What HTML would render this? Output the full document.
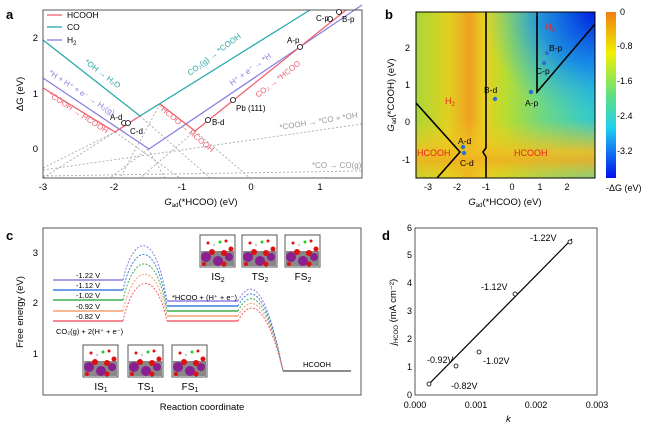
<!DOCTYPE html>
<html><head><meta charset="utf-8"><style>
body{margin:0;background:#fff}
svg{display:block;font-family:"Liberation Sans",Arial,sans-serif}
</style></head><body>
<svg width="650" height="428" viewBox="0 0 650 428" xmlns="http://www.w3.org/2000/svg">
<defs>
<linearGradient id="hx" x1="416" x2="595" y1="0" y2="0" gradientUnits="userSpaceOnUse">
<stop offset="0" stop-color="#a8d838"/>
<stop offset="0.18" stop-color="#e0d020"/>
<stop offset="0.3" stop-color="#f0a020"/>
<stop offset="0.38" stop-color="#e8d020"/>
<stop offset="0.5" stop-color="#b8dc30"/>
<stop offset="0.7" stop-color="#70d880"/>
<stop offset="1" stop-color="#30c8d0"/>
</linearGradient>
<linearGradient id="hy" x1="0" x2="0" y1="120" y2="178" gradientUnits="userSpaceOnUse">
<stop offset="0" stop-color="#f0d020" stop-opacity="0"/>
<stop offset="0.55" stop-color="#f0c020" stop-opacity="0.9"/>
<stop offset="0.7" stop-color="#f0b020" stop-opacity="0.9"/>
<stop offset="1" stop-color="#e8d020" stop-opacity="0.5"/>
</linearGradient>
<radialGradient id="hb" cx="595" cy="12" r="110" gradientUnits="userSpaceOnUse">
<stop offset="0" stop-color="#0020e0"/>
<stop offset="0.5" stop-color="#1080f0" stop-opacity="0.8"/>
<stop offset="1" stop-color="#30c8e0" stop-opacity="0"/>
</radialGradient>
<linearGradient id="cb" x1="0" x2="0" y1="12" y2="178" gradientUnits="userSpaceOnUse">
<stop offset="0" stop-color="#f08010"/>
<stop offset="0.25" stop-color="#f0f000"/>
<stop offset="0.5" stop-color="#60e080"/>
<stop offset="0.7" stop-color="#20d0f0"/>
<stop offset="1" stop-color="#0010f0"/>
</linearGradient>
<g id="mol">
<rect x="0" y="0" width="35" height="32" fill="#fff" stroke="#555" stroke-width="1"/>
<rect x="1" y="16" width="33" height="15" fill="#888"/>
<circle cx="6" cy="22" r="5" fill="#8a2090"/><circle cx="18" cy="26" r="5" fill="#8a2090"/><circle cx="29" cy="22" r="4" fill="#8a2090"/>
<circle cx="12" cy="17" r="3" fill="#e01010"/><circle cx="24" cy="18" r="3" fill="#e01010"/><circle cx="31" cy="14" r="2.5" fill="#e01010"/><circle cx="4" cy="29" r="2" fill="#e01010"/><circle cx="24" cy="29" r="2.5" fill="#e01010"/>
<circle cx="8" cy="8" r="1.5" fill="#e01010"/><circle cx="20" cy="7" r="1.5" fill="#2c2"/><circle cx="26" cy="6" r="1.5" fill="#e01010"/><circle cx="14" cy="10" r="1.2" fill="#ccc"/>
</g>
</defs>

<!-- Panel a -->
<text x="6" y="19" font-size="13" font-weight="bold">a</text>
<g stroke="#aaa" stroke-width="0.9" stroke-dasharray="2,2" fill="none">
<line x1="43" y1="170" x2="362" y2="124"/>
<line x1="43" y1="176" x2="362" y2="171"/>
<line x1="43" y1="168" x2="115" y2="132"/>
<line x1="140" y1="116" x2="210" y2="178"/>
<line x1="115" y1="132" x2="180" y2="178"/>
<line x1="148" y1="149" x2="165" y2="178"/>
<line x1="148" y1="149" x2="110" y2="178"/>
<line x1="195" y1="131" x2="250" y2="178"/>
<line x1="195" y1="131" x2="140" y2="178"/>
<line x1="160" y1="104" x2="120" y2="178"/>
<line x1="43" y1="178" x2="140" y2="116"/>
</g>
<polyline points="43,40 140,116 310,10" fill="none" stroke="#2aa8a8" stroke-width="1.3"/>
<polyline points="43,78 149,149 362,5" fill="none" stroke="#8a80e0" stroke-width="1.3"/>
<polyline points="43,88 115,132 140,116" fill="none" stroke="#f06070" stroke-width="1.3"/>
<polyline points="160,104 195,131 346,10" fill="none" stroke="#f06070" stroke-width="1.3"/>
<rect x="43" y="10" width="319" height="168" fill="none" stroke="#555" stroke-width="1"/>
<g fill="#fff" stroke="#000" stroke-width="0.8">
<circle cx="124" cy="123" r="2.5"/><circle cx="128" cy="123" r="2.5"/><circle cx="208" cy="120" r="2.5"/><circle cx="233" cy="100" r="2.5"/><circle cx="300" cy="47" r="2.5"/><circle cx="330" cy="19" r="2.5"/><circle cx="339" cy="12" r="2.5"/>
</g>
<g font-size="8">
<text x="110" y="120">A-d</text><text x="130" y="134">C-d</text><text x="212" y="125">B-d</text><text x="236" y="111">Pb (111)</text><text x="287" y="43">A-p</text><text x="316" y="21">C-p</text><text x="342" y="22">B-p</text>
</g>
<line x1="47" y1="15" x2="62" y2="15" stroke="#f06070" stroke-width="1.3"/>
<line x1="47" y1="27" x2="62" y2="27" stroke="#2aa8a8" stroke-width="1.3"/>
<line x1="47" y1="40" x2="62" y2="40" stroke="#8a80e0" stroke-width="1.3"/>
<g font-size="8.5"><text x="67" y="18">HCOOH</text><text x="67" y="30">CO</text><text x="67" y="43">H<tspan font-size="6" dy="2">2</tspan></text></g>
<g font-size="8">
<text transform="translate(84,63) rotate(37)" fill="#2aa8a8">*OH → H₂O</text>
<text transform="translate(190,76) rotate(-37)" fill="#2aa8a8">CO₂(g) → *COOH</text>
<text transform="translate(48,74) rotate(33)" fill="#8a80e0">*H + H⁺ + e⁻ → H₂(g)</text>
<text transform="translate(48,96) rotate(33)" fill="#f06070">*COOH → HCOOH</text>
<text transform="translate(158,108) rotate(40)" fill="#f06070">*HCOO → HCOOH</text>
<text transform="translate(232,86) rotate(-36)" fill="#8a80e0">H⁺ + e⁻ → *H</text>
<text transform="translate(258,98) rotate(-38)" fill="#f06070">CO₂ → *HCOO</text>
<text transform="translate(280,130) rotate(-9)" fill="#999">*COOH → *CO + *OH</text>
<text x="312" y="168" fill="#999">*CO → CO(g)</text>
</g>
<g font-size="9.5" text-anchor="middle">
<text x="43" y="190">-3</text><text x="114" y="190">-2</text><text x="182" y="190">-1</text><text x="251" y="190">0</text><text x="320" y="190">1</text>
</g>
<g font-size="9.5" text-anchor="end"><text x="38" y="41">2</text><text x="38" y="97">1</text><text x="38" y="152">0</text></g>
<text x="201" y="205" font-size="9.5" text-anchor="middle"><tspan font-style="italic">G</tspan><tspan font-size="6" dy="2">ad</tspan><tspan dy="-2">(*HCOO) (eV)</tspan></text>
<text transform="translate(23,94) rotate(-90)" font-size="9.5" text-anchor="middle">ΔG (eV)</text>

<!-- Panel b -->
<text x="385" y="19" font-size="13" font-weight="bold">b</text>
<rect x="416" y="12" width="179" height="166" fill="url(#hx)"/>
<rect x="416" y="120" width="179" height="58" fill="url(#hy)"/>
<rect x="416" y="12" width="179" height="166" fill="url(#hb)"/>
<g fill="none" stroke="#000" stroke-width="1.6">
<polyline points="486,12 486,148 483,152 486,157 486,178"/>
<polyline points="416,103 460,152 437,178"/>
<polyline points="537,12 537,92 595,24"/>
</g>
<rect x="416" y="12" width="179" height="166" fill="none" stroke="#000" stroke-width="1"/>
<g fill="#2a70d0"><circle cx="463" cy="147" r="2.2"/><circle cx="464" cy="153" r="2.2"/><circle cx="495" cy="99" r="2.2"/><circle cx="531" cy="92" r="2.2"/><circle cx="544" cy="63" r="2.2"/><circle cx="547" cy="53" r="2.2"/></g>
<g font-size="8.5">
<text x="458" y="144">A-d</text><text x="460" y="166">C-d</text><text x="484" y="93">B-d</text><text x="525" y="106">A-p</text><text x="536" y="74">C-p</text><text x="549" y="51">B-p</text>
</g>
<g font-size="9" fill="#e82020"><text x="445" y="104">H<tspan font-size="6" dy="2">2</tspan></text><text x="545" y="30">H<tspan font-size="6" dy="2">2</tspan></text><text x="417" y="156">HCOOH</text><text x="514" y="156">HCOOH</text></g>
<g font-size="9" text-anchor="middle"><text x="428" y="190">-3</text><text x="457" y="190">-2</text><text x="486" y="190">-1</text><text x="512" y="190">0</text><text x="540" y="190">1</text><text x="567" y="190">2</text></g>
<g font-size="9" text-anchor="end"><text x="410" y="51">2</text><text x="410" y="88">1</text><text x="410" y="125">0</text><text x="410" y="163">-1</text></g>
<text x="505" y="205" font-size="9.5" text-anchor="middle"><tspan font-style="italic">G</tspan><tspan font-size="6" dy="2">ad</tspan><tspan dy="-2">(*HCOO) (eV)</tspan></text>
<text transform="translate(394,95) rotate(-90)" font-size="9.5" text-anchor="middle"><tspan font-style="italic">G</tspan><tspan font-size="6" dy="2">ad</tspan><tspan dy="-2">(*COOH) (eV)</tspan></text>
<rect x="606" y="12" width="10" height="166" fill="url(#cb)"/>
<g font-size="9"><text x="620" y="15">0</text><text x="617" y="49">-0.8</text><text x="617" y="84">-1.6</text><text x="617" y="119">-2.4</text><text x="617" y="154">-3.2</text><text x="606" y="191">-ΔG (eV)</text></g>

<!-- Panel c -->
<text x="6" y="240" font-size="13" font-weight="bold">c</text>
<rect x="43" y="228" width="318" height="167" fill="none" stroke="#555" stroke-width="1"/>
<g font-size="9.5" text-anchor="end"><text x="38" y="256">3</text><text x="38" y="306">2</text><text x="38" y="357">1</text></g>
<text transform="translate(23,312) rotate(-90)" font-size="9.5" text-anchor="middle">Free energy (eV)</text>
<text x="202" y="410" font-size="9.5" text-anchor="middle">Reaction coordinate</text>
<g stroke-width="1.6" fill="none">
<g stroke="#8a80e0"><line x1="53" y1="280" x2="123" y2="280"/><line x1="167" y1="301" x2="238" y2="301"/><path d="M123,280 C133,236 155,226 167,301" stroke-dasharray="2,1.5" stroke-width="1"/><path d="M238,301 C248,282 264,274 283,371" stroke-dasharray="2,1.5" stroke-width="1"/></g>
<g stroke="#3a80e0"><line x1="53" y1="290" x2="123" y2="290"/><line x1="167" y1="306" x2="238" y2="306"/><path d="M123,290 C133,245 155,235 167,306" stroke-dasharray="2,1.5" stroke-width="1"/><path d="M238,306 C248,287 264,279 283,371" stroke-dasharray="2,1.5" stroke-width="1"/></g>
<g stroke="#3cb050"><line x1="53" y1="300" x2="123" y2="300"/><line x1="167" y1="311" x2="238" y2="311"/><path d="M123,300 C133,255 155,245 167,311" stroke-dasharray="2,1.5" stroke-width="1"/><path d="M238,311 C248,292 264,284 283,371" stroke-dasharray="2,1.5" stroke-width="1"/></g>
<g stroke="#f0a070"><line x1="53" y1="311" x2="123" y2="311"/><line x1="167" y1="316" x2="238" y2="316"/><path d="M123,311 C133,266 155,256 167,316" stroke-dasharray="2,1.5" stroke-width="1"/><path d="M238,316 C248,297 264,289 283,371" stroke-dasharray="2,1.5" stroke-width="1"/></g>
<g stroke="#f06070"><line x1="53" y1="321" x2="123" y2="321"/><line x1="167" y1="321" x2="238" y2="321"/><path d="M123,321 C133,276 155,266 167,321" stroke-dasharray="2,1.5" stroke-width="1"/><path d="M238,321 C248,302 264,294 283,371" stroke-dasharray="2,1.5" stroke-width="1"/></g>
<line x1="283" y1="371" x2="351" y2="371" stroke="#666"/>
</g>
<g font-size="7.5"><text x="76" y="278">-1.22 V</text><text x="76" y="288">-1.12 V</text><text x="76" y="298">-1.02 V</text><text x="76" y="309">-0.92 V</text><text x="76" y="319">-0.82 V</text>
<text x="56" y="334">CO₂(g) + 2(H⁺ + e⁻)</text><text x="172" y="300">*HCOO + (H⁺ + e⁻)</text><text x="303" y="367">HCOOH</text></g>
<use href="#mol" x="200" y="235"/><use href="#mol" x="242" y="235"/><use href="#mol" x="285" y="235"/>
<use href="#mol" x="83" y="345"/><use href="#mol" x="128" y="345"/><use href="#mol" x="172" y="345"/>
<g font-size="10" text-anchor="middle"><text x="218" y="280">IS<tspan font-size="7" dy="2">2</tspan></text><text x="260" y="280">TS<tspan font-size="7" dy="2">2</tspan></text><text x="303" y="280">FS<tspan font-size="7" dy="2">2</tspan></text>
<text x="101" y="390">IS<tspan font-size="7" dy="2">1</tspan></text><text x="146" y="390">TS<tspan font-size="7" dy="2">1</tspan></text><text x="190" y="390">FS<tspan font-size="7" dy="2">1</tspan></text></g>

<!-- Panel d -->
<text x="382" y="240" font-size="13" font-weight="bold">d</text>
<rect x="415" y="228" width="182" height="167" fill="none" stroke="#555" stroke-width="1"/>
<line x1="429" y1="384" x2="572" y2="239" stroke="#000" stroke-width="1.2"/>
<g fill="#fff" stroke="#000" stroke-width="0.8"><circle cx="429" cy="384" r="2"/><circle cx="456" cy="366" r="2"/><circle cx="479" cy="352" r="2"/><circle cx="515" cy="294" r="2"/><circle cx="570" cy="242" r="2"/></g>
<g font-size="9" text-anchor="end"><text x="412" y="231">6</text><text x="412" y="258">5</text><text x="412" y="286">4</text><text x="412" y="314">3</text><text x="412" y="342">2</text><text x="412" y="370">1</text><text x="412" y="398">0</text></g>
<g font-size="9" text-anchor="middle"><text x="415" y="408">0.000</text><text x="476" y="408">0.001</text><text x="536" y="408">0.002</text><text x="597" y="408">0.003</text></g>
<text x="506" y="422" font-size="9.5" font-style="italic">k</text>
<text transform="translate(396,312) rotate(-90)" font-size="9.5" text-anchor="middle"><tspan font-style="italic">j</tspan><tspan font-size="6" dy="2">HCOO</tspan><tspan dy="-2"> (mA cm⁻²)</tspan></text>
<g font-size="9"><text x="530" y="241">-1.22V</text><text x="481" y="290">-1.12V</text><text x="427" y="363">-0.92V</text><text x="483" y="364">-1.02V</text><text x="451" y="389">-0.82V</text></g>
</svg>
</body></html>
